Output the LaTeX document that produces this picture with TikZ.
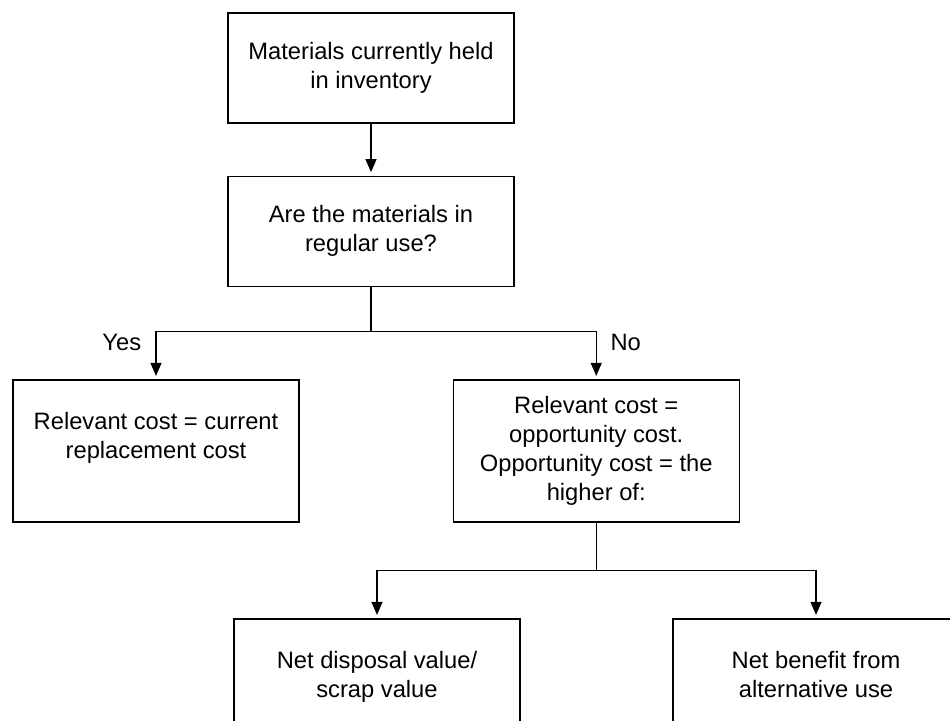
\documentclass[tikz,border=0pt]{standalone}
\usepackage{fontspec}
\setmainfont{Liberation Sans}
\usetikzlibrary{arrows.meta, positioning}

\begin{document}
\begin{tikzpicture}[
    node distance=1cm,
    box/.style={rectangle, draw=black, line width=0.7pt, minimum width=5.72cm, minimum height=2.2cm, align=center, inner sep=2pt, font=\fontsize{13.5}{16.5}\selectfont},
    tallbox/.style={box, minimum height=2.84cm},
    boxtext/.style={inner sep=0pt, align=center, font=\fontsize{13.5}{16.5}\selectfont},
    tag/.style={inner sep=0pt, font=\fontsize{13.5}{16.5}\selectfont},
    link/.style={line width=0.7pt, -{Triangle[length=0.26cm, width=0.22cm]}, shorten >=2pt}
]
    \useasboundingbox (0,0) rectangle (19,-14.4);
    \clip (0,0) rectangle (19,-14.4);

    % Question (Top)
    \node (held) [box] at (7.42,-1.36) {Materials currently held\\in inventory};
    \node (regular) [box, below=1.04cm of held] {Are the materials in\\regular use?};

    % Yes / No (Middle)
    \node (replace) [tallbox] at (3.12,-9.02) {};
    \node (replacetext) [boxtext, below=0.66cm of replace.north] {Relevant cost = current\\replacement cost};
    \node (opport) [tallbox, right=3.06cm of replace] {Relevant cost =\\opportunity cost.\\Opportunity cost = the\\higher of:};

    % Higher of (Bottom)
    \node (scrap) [tallbox] at (7.54,-13.8) {};
    \node (scraptext) [boxtext, below=0.66cm of scrap.north] {Net disposal value/\\scrap value};
    \node (benefit) [tallbox] at (16.32,-13.8) {};
    \node (benefittext) [boxtext, below=0.66cm of benefit.north] {Net benefit from\\alternative use};

    % Arrows
    \draw[link] (held) -- (regular);

    \coordinate [below=0.9cm of regular.south] (fork);
    \coordinate (yesturn) at (fork -| replace.north);
    \coordinate (noturn) at (fork -| opport.north);
    \draw[link] (regular.south) -- (fork) -- (yesturn) -- (replace.north);
    \draw[link] (fork) -- (noturn) -- (opport.north);
    \node (yes) [tag, below left=0.04cm and 0.29cm of yesturn] {Yes};
    \node (no) [tag, below right=0.04cm and 0.28cm of noturn] {No};

    \coordinate [below=0.96cm of opport.south] (split);
    \coordinate (scrapturn) at (split -| scrap.north);
    \coordinate (benefitturn) at (split -| benefit.north);
    \draw[link] (opport.south) -- (split) -- (scrapturn) -- (scrap.north);
    \draw[link] (split) -- (benefitturn) -- (benefit.north);

\end{tikzpicture}
\end{document}
